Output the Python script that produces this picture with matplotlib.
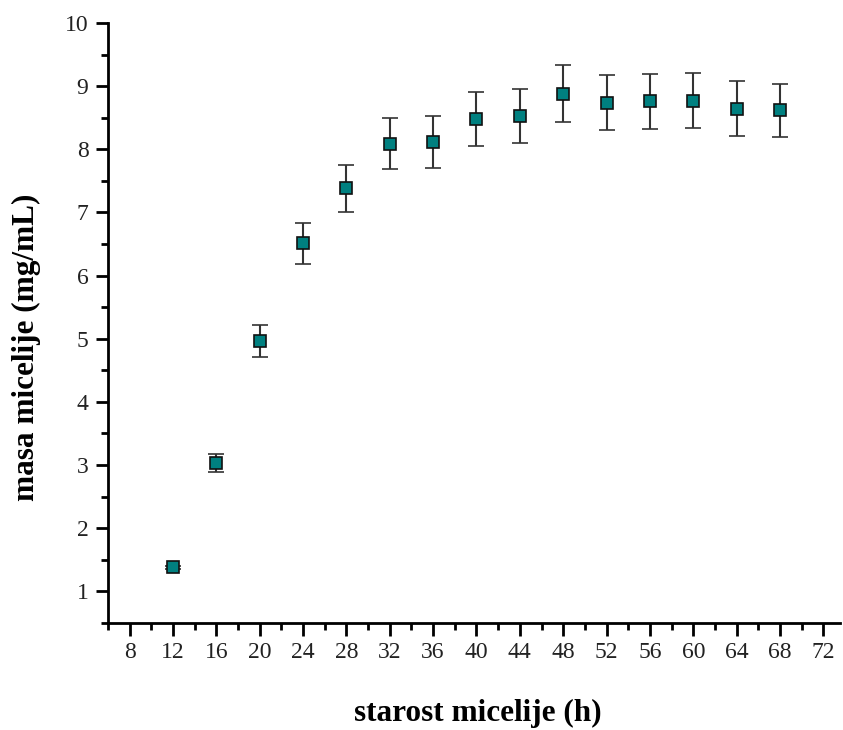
import numpy as np
import matplotlib.pyplot as plt
from matplotlib.ticker import MultipleLocator

plt.rcParams['font.family'] = ['Liberation Serif', 'DejaVu Serif']

# data
hours = [12, 16, 20, 24, 28, 32, 36, 40, 44, 48, 52, 56, 60, 64, 68]
mass = [1.38, 3.03, 4.96, 6.51, 7.38, 8.09, 8.11, 8.48, 8.53, 8.88, 8.74, 8.76, 8.77, 8.64, 8.62]
err = [0.03, 0.14, 0.25, 0.32, 0.37, 0.40, 0.41, 0.43, 0.425, 0.45, 0.43, 0.435, 0.435, 0.435, 0.42]

fig = plt.figure(figsize=(8.43, 7.30), dpi=100)
ax = fig.add_axes([0.128, 0.1466, 0.868, 0.822])

ax.errorbar(hours, mass, yerr=err, fmt='s', color='#333333', ecolor='#333333',
            elinewidth=1.5, capsize=6, capthick=1.5,
            markerfacecolor='#008080', markeredgecolor='#111111',
            markersize=9, markeredgewidth=1.2)

ax.set_xlim(6, 73.5)
ax.set_ylim(0.5, 10)
ax.xaxis.set_minor_locator(MultipleLocator(2))
ax.yaxis.set_minor_locator(MultipleLocator(0.5))
ax.set_xticks(np.arange(8, 73, 4))
ax.set_yticks(np.arange(1, 11, 1))

for s in ['top', 'right']:
    ax.spines[s].set_visible(False)
for s in ['left', 'bottom']:
    ax.spines[s].set_linewidth(2)

ax.tick_params(which='major', direction='out', length=9, width=2, labelsize=17, colors='black', pad=5)
ax.tick_params(which='minor', direction='out', length=5, width=2)
for lab in ax.get_xticklabels() + ax.get_yticklabels():
    lab.set_color('#222222')

ax.set_xlabel('starost micelije (h)', fontsize=22.5, fontweight='bold')
ax.set_ylabel('masa micelije (mg/mL)', fontsize=22.5, fontweight='bold')
ax.xaxis.set_label_coords(0.505, -0.127)
ax.yaxis.set_label_coords(-0.092, 0.46)

fig.savefig('out.png', dpi=100)
